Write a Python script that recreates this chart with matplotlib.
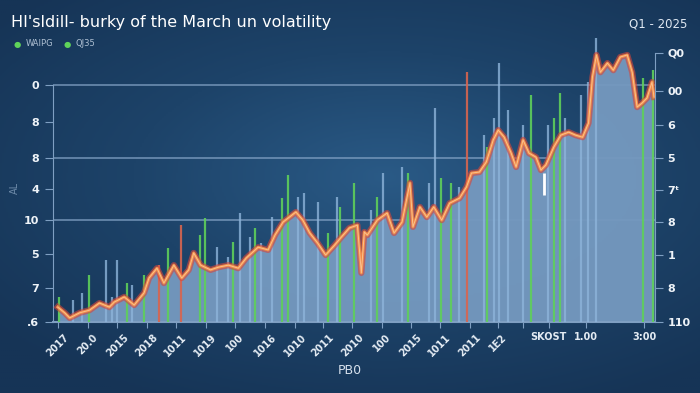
import numpy as np
import matplotlib
matplotlib.use("Agg")
import matplotlib.pyplot as plt
from matplotlib.colors import LinearSegmentedColormap

plt.rcParams["font.family"] = ["DejaVu Sans"]

# volatility line (period, level)
t_line = [0, 1.16, 1.99, 3.65, 5.32, 6.98, 8.64, 9.47, 11.13, 12.79, 14.45, 15.28, 16.61,
          17.77, 19.44, 20.76, 21.93, 22.76, 23.92, 25.58, 26.91, 28.57, 30.23, 31.56, 33.55,
          35.22, 36.38, 37.71, 39.87, 41.03, 42.19, 43.52, 44.85, 46.35, 47.34, 48.84, 50.17,
          50.83, 51.33, 51.83, 53.49, 55.15, 56.31, 57.64, 58.97, 59.47, 60.63, 61.79, 62.96,
          64.29, 65.61, 67.28, 68.44, 69.27, 70.60, 71.76, 72.92, 73.75, 74.75, 75.91, 76.74,
          77.91, 78.90, 80.07, 80.90, 81.73, 83.06, 84.22, 85.55, 86.71, 87.87, 88.87, 89.53,
          90.20, 90.86, 92.03, 93.02, 94.19, 95.35, 96.18, 97.01, 97.84, 98.67, 99.50, 99.83]
v_line = [0.44, 0.27, 0.12, 0.27, 0.35, 0.56, 0.44, 0.59, 0.74, 0.50, 0.86, 1.30, 1.59,
          1.15, 1.68, 1.30, 1.54, 2.04, 1.68, 1.54, 1.62, 1.68, 1.59, 1.89, 2.21,
          2.13, 2.57, 2.95, 3.25, 3.01, 2.63, 2.33, 1.98, 2.27, 2.48, 2.78, 2.86,
          1.45, 2.66, 2.57, 3.01, 3.22, 2.63, 2.95, 4.11, 2.81, 3.40, 3.10, 3.40,
          3.01, 3.51, 3.66, 3.99, 4.40, 4.43, 4.73, 5.38, 5.67, 5.46, 4.99, 4.58,
          5.38, 4.99, 4.87, 4.49, 4.64, 5.17, 5.52, 5.61, 5.52, 5.46, 5.88, 7.24,
          7.89, 7.38, 7.65, 7.44, 7.83, 7.89, 7.38, 6.35, 6.47, 6.62, 7.09, 6.65]

# spikes (period, level, kind)
spike_t = [0.17, 2.49, 3.99, 5.15, 8.14, 9.14, 9.97, 11.63, 12.46, 14.45, 16.94, 18.44,
           20.60, 23.75, 24.58, 26.58, 28.57, 29.40, 30.56, 32.23, 33.06, 34.05, 35.88,
           37.54, 38.54, 40.20, 41.20, 43.52, 45.18, 46.68, 47.18, 49.67, 52.49, 53.49,
           54.49, 57.64, 58.64, 62.13, 63.12, 64.12, 65.78, 67.11, 68.44, 71.43, 71.93,
           73.09, 73.92, 75.42, 77.91, 79.24, 82.06, 83.06, 84.05, 84.88, 87.54, 88.70,
           90.20, 98.01, 99.67]
spike_v = [0.74, 0.65, 0.86, 1.39, 1.83, 0.74, 1.83, 1.15, 1.09, 1.39, 1.68, 2.19,
           2.86, 2.57, 3.07, 2.21, 1.92, 2.36, 3.22, 2.51, 2.78, 2.33, 3.10,
           3.66, 4.34, 3.69, 3.81, 3.54, 2.63, 3.69, 3.40, 4.11, 3.31, 3.69,
           4.40, 4.58, 4.40, 4.11, 6.32, 4.25, 4.11, 3.99, 7.38, 5.52, 5.17,
           6.02, 7.65, 6.26, 5.82, 6.70, 5.82, 6.02, 6.76, 6.02, 6.70, 7.09,
           8.39, 7.21, 7.44]
spike_kind = "gbbgbbbgbgrgrggbbgbbgbbggbbbgbggbgbbgbbggbrbgbbbbgbggbbbbgg"

x_ticks = [0, 4.98, 9.97, 14.95, 19.77, 24.75, 29.73, 34.72, 39.70, 44.35, 49.34, 54.32,
           59.14, 63.95, 68.94, 73.75, 77.91, 82.23, 88.37, 98.17]
x_labels = ["2017", "20.0", "2015", "2018", "1011", "1019", "100", "1016", "1010", "2011",
            "2010", "100", "2015", "1011", "2011", "1E2", "", "SKOST", "1.00", "3:00"]
left_ticks = [0, 1, 2, 3, 3.93, 4.85, 5.9, 7]
left_labels = [".6", "7", "5", "10", "4", "8", "8", "0"]
right_ticks = [0, 1, 1.98, 2.95, 3.9, 4.84, 5.82, 6.82, 7.95]
right_labels = ["110", "8", "1", "8", "7ᵗ", "5", "6", "00", "Q0"]

fig = plt.figure(figsize=(7, 3.93), dpi=100)

# background gradient
bg = fig.add_axes([0, 0, 1, 1], zorder=-5)
yy, xx = np.mgrid[0:1:200j, 0:1:350j]
d = np.sqrt(((xx - 0.55) / 0.9) ** 2 + ((yy - 0.45) / 0.8) ** 2)
cmap = LinearSegmentedColormap.from_list("bg", ["#2a5a86", "#1d4369", "#163456"])
bg.imshow(d, cmap=cmap, aspect="auto", extent=[0, 1, 0, 1], vmin=0, vmax=0.8)
bg.axis("off")

ax = fig.add_axes([53 / 700, 1 - 322 / 393, 602 / 700, 287 / 393])
ax.set_facecolor("none")
ax.set_xlim(-0.8, 100)
ax.set_ylim(0, 8.48)

spine_c = "#7f9fc2"
for y in [7, 4.85, 3]:
    ax.axhline(y, color=spine_c, lw=1.3, alpha=0.75, zorder=1)

ax.fill_between(t_line, 0, v_line, color="#7498be", alpha=0.97, lw=0, zorder=2)

colors = {"b": "#8db4da", "g": "#5fcf5a", "r": "#d8654f"}
for t, v, k in zip(spike_t, spike_v, spike_kind):
    ax.vlines(t, 0, v, color=colors[k], lw=1.6, alpha=0.8 if k == "b" else 0.9, zorder=3)
ax.vlines(81.4, 3.75, 4.4, color="white", lw=2, zorder=6)

ax.plot(t_line, v_line, color="#d9453a", lw=4.5, alpha=0.6, zorder=4)
ax.plot(t_line, v_line, color="#f28a48", lw=2.2, zorder=5)
ax.plot(t_line, v_line, color="#fbd0a0", lw=0.7, alpha=0.8, zorder=5)

for s in ["top", "right"]:
    ax.spines[s].set_visible(False)
ax.spines["left"].set_color(spine_c)
ax.spines["left"].set_bounds(0, 7)
ax.spines["bottom"].set_color(spine_c)
ax.spines["bottom"].set_linewidth(1.5)

ax.set_yticks(left_ticks)
ax.set_yticklabels(left_labels, fontsize=8, fontweight="bold", color="#eef3f8")
ax.tick_params(axis="y", colors=spine_c, labelcolor="#eef3f8", length=6, pad=4)

ax.set_xticks(x_ticks)
ax.set_xticklabels(x_labels, fontsize=7, fontweight="bold", color="#e3ebf3")
ax.tick_params(axis="x", colors=spine_c, labelcolor="#e3ebf3", length=4)
for lab in ax.get_xticklabels():
    if lab.get_text() in ["SKOST", "1.00", "3:00"]:
        lab.set_rotation(0)
    else:
        lab.set_rotation(45)
        lab.set_ha("center")

ax2 = ax.twinx()
ax2.set_ylim(ax.get_ylim())
for s in ["top", "left", "bottom"]:
    ax2.spines[s].set_visible(False)
ax2.spines["right"].set_color(spine_c)
ax2.spines["right"].set_bounds(0, 7.95)
ax2.set_yticks(right_ticks)
ax2.set_yticklabels(right_labels, fontsize=8, fontweight="bold")
ax2.tick_params(axis="y", colors=spine_c, labelcolor="#eef3f8", length=6, pad=3)

fig.text(0.016, 0.944, "HI'sldill- burky of the March un volatility", fontsize=11.5,
         color="white", va="center", ha="left")
fig.text(0.94, 0.94, "Q1 - 2025", fontsize=8.5, color="#dfe8f2", ha="center", va="center")
for x0, name in [(17, "WAIPG"), (67, "QJ35")]:
    fig.text(x0 / 700, 1 - 44 / 393, "●", fontsize=6, color="#5fd35a", ha="center", va="center")
    fig.text((x0 + 9) / 700, 1 - 44 / 393, name, fontsize=6, color="#aebfd2", va="center")
fig.text(15 / 700, 1 - 188 / 393, "AL", fontsize=7, color="#6d8aa8", rotation=90,
         ha="center", va="center")
fig.text(0.5, 1 - 370 / 393, "PB0", fontsize=9, color="#d6e0ec", ha="center", va="center")

fig.savefig("out.png", dpi=100)
